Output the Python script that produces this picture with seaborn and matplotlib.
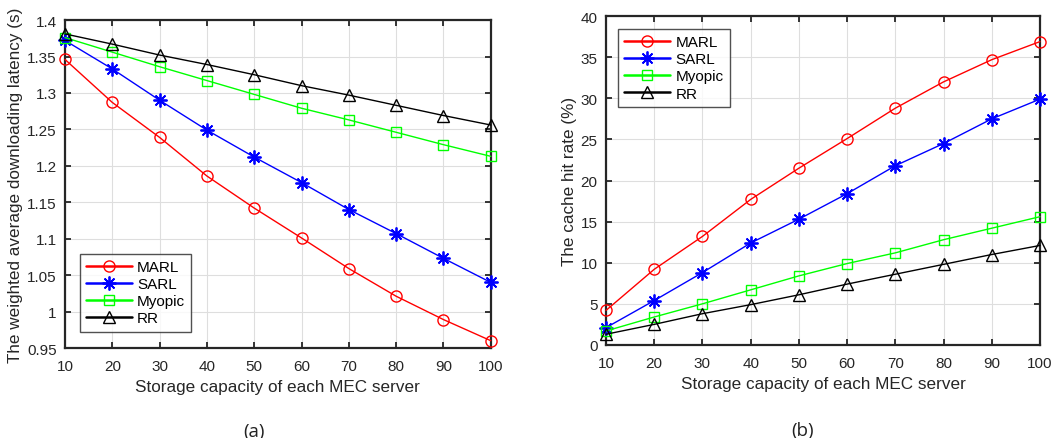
import matplotlib
matplotlib.use("Agg")
import matplotlib.pyplot as plt
import seaborn as sns
import pandas as pd
from matplotlib.ticker import FuncFormatter

capacity = [10, 20, 30, 40, 50, 60, 70, 80, 90, 100]
series_names = ["MARL", "SARL", "Myopic", "RR"]

latency_marl = [1.346, 1.287, 1.239, 1.186, 1.142, 1.101, 1.059, 1.021, 0.989, 0.960]
latency_sarl = [1.372, 1.333, 1.290, 1.249, 1.212, 1.177, 1.140, 1.107, 1.073, 1.040]
latency_myopic = [1.376, 1.356, 1.336, 1.317, 1.298, 1.279, 1.263, 1.246, 1.229, 1.213]
latency_rr = [1.381, 1.367, 1.352, 1.339, 1.325, 1.310, 1.297, 1.283, 1.269, 1.256]

hit_marl = [4.2, 9.2, 13.2, 17.7, 21.5, 25.1, 28.8, 32.0, 34.7, 36.9]
hit_sarl = [2.1, 5.4, 8.8, 12.4, 15.3, 18.4, 21.8, 24.5, 27.5, 29.9]
hit_myopic = [1.7, 3.4, 5.0, 6.7, 8.4, 9.9, 11.2, 12.8, 14.2, 15.6]
hit_rr = [1.3, 2.5, 3.8, 4.9, 6.1, 7.4, 8.6, 9.8, 11.0, 12.1]

xlabel = "Storage capacity of each MEC server"
ylabel_a = "The weighted average downloading latency (s)"
ylabel_b = "The cache hit rate (%)"

sns.set_theme(style="white")
plt.rcParams["font.family"] = ["Liberation Sans", "DejaVu Sans"]
plt.rcParams["xtick.bottom"] = True
plt.rcParams["ytick.left"] = True

colors = {"MARL": "#ff0000", "SARL": "#0000ff", "Myopic": "#00ff00", "RR": "#000000"}
markers = {"MARL": "o", "SARL": (8, 2, 0), "Myopic": "s", "RR": "^"}
msizes = {"MARL": 8, "SARL": 10, "Myopic": 7, "RR": 9}
mews = {"MARL": 1.0, "SARL": 1.3, "Myopic": 1.0, "RR": 1.0}

fig = plt.figure(figsize=(10.51, 4.39), dpi=100)
ax1 = fig.add_axes([0.0618, 0.205, 0.4052, 0.747])
ax2 = fig.add_axes([0.5766, 0.212, 0.4129, 0.749])

def draw(ax, data, ylim, yticks, ylabel, legend_loc):
    for name, vals in zip(series_names, data):
        df = pd.DataFrame({"x": capacity, "y": vals})
        sns.lineplot(data=df, x="x", y="y", ax=ax, color=colors[name],
                     marker=markers[name], markersize=msizes[name],
                     markerfacecolor="none", markeredgecolor=colors[name],
                     markeredgewidth=mews[name], linewidth=1.0, label=name,
                     clip_on=False, zorder=3)
    ax.set_xlim(10, 100)
    ax.set_ylim(*ylim)
    ax.set_xticks(capacity)
    ax.set_yticks(yticks)
    ax.yaxis.set_major_formatter(FuncFormatter(lambda v, p: "%g" % round(v, 4)))
    ax.grid(True, color="#dedede", linewidth=0.8)
    ax.set_axisbelow(True)
    for sp in ax.spines.values():
        sp.set_color("#262626")
        sp.set_linewidth(1.6)
        sp.set_visible(True)
    ax.tick_params(direction="in", length=4.5, width=1.3, color="#262626",
                   labelsize=11, labelcolor="#262626", top=True, right=True,
                   bottom=True, left=True, pad=8)
    ax.tick_params(axis="y", pad=6)
    ax.set_xlabel(xlabel, fontsize=12.3, color="#262626", labelpad=4)
    ax.set_ylabel(ylabel, fontsize=12.3, color="#262626", labelpad=3)
    leg = ax.legend(loc=legend_loc, fontsize=11, frameon=True, fancybox=False,
                    edgecolor="#262626", handlelength=3.0, borderpad=0.4,
                    labelspacing=0.2, handletextpad=0.35, borderaxespad=0)
    leg.get_frame().set_linewidth(1.0)
    for h in leg.legend_handles:
        h.set_linewidth(1.8)
    for t in leg.get_texts():
        t.set_color("black")
    return leg

leg1 = draw(ax1, [latency_marl, latency_sarl, latency_myopic, latency_rr],
            (0.95, 1.4), [0.95 + 0.05 * i for i in range(10)], ylabel_a, "lower left")
leg1.set_bbox_to_anchor((0.035, 0.05))
leg2 = draw(ax2, [hit_marl, hit_sarl, hit_myopic, hit_rr],
            (0, 40), list(range(0, 41, 5)), ylabel_b, "upper left")
leg2.set_bbox_to_anchor((0.028, 0.96))

fig.text(254 / 1051, 1 - 432 / 439, "(a)", fontsize=13.5, ha="center", va="center",
         family=["Open Sans", "DejaVu Sans"], color="#222222")
fig.text(803 / 1051, 1 - 431 / 439, "(b)", fontsize=13.5, ha="center", va="center",
         family=["Open Sans", "DejaVu Sans"], color="#222222")

fig.savefig("out.png", dpi=100)
